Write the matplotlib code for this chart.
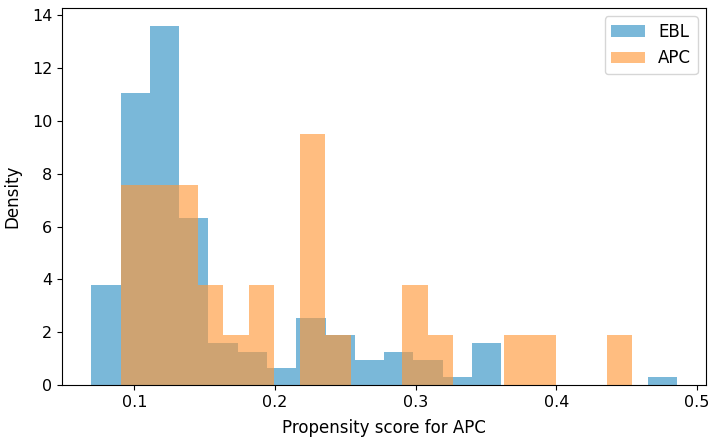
import numpy as np
import matplotlib.pyplot as plt

# bin edges (20 bins each)
ebl_edges = np.linspace(0.0695, 0.4856, 21)
apc_edges = np.linspace(0.0904, 0.4539, 21)

# counts per bin (density is normalised by hist)
ebl_counts = [12, 35, 43, 20, 5, 4, 2, 8, 6, 3, 4, 3, 1, 5, 0, 0, 0, 0, 0, 1]
apc_counts = [4, 4, 4, 2, 1, 2, 0, 5, 1, 0, 0, 2, 1, 0, 0, 1, 1, 0, 0, 1]

fig = plt.figure(figsize=(7.14, 4.45), dpi=100)
ax = fig.gca()

ebl_mid = (ebl_edges[:-1] + ebl_edges[1:]) / 2
apc_mid = (apc_edges[:-1] + apc_edges[1:]) / 2

ax.hist(ebl_mid, bins=ebl_edges, weights=ebl_counts, density=True,
        color='#0077b6', alpha=0.52, label='EBL')
ax.hist(apc_mid, bins=apc_edges, weights=apc_counts, density=True,
        color='#ff9838', alpha=0.64, label='APC')

ax.set_xlabel('Propensity score for APC', fontsize=12, labelpad=7)
ax.set_ylabel('Density', fontsize=12, labelpad=8)
ax.tick_params(labelsize=11.5)
ax.legend(loc='upper right', fontsize=12)

fig.subplots_adjust(left=0.087, right=0.989, top=0.982, bottom=0.135)
fig.savefig('out.png', dpi=100)
